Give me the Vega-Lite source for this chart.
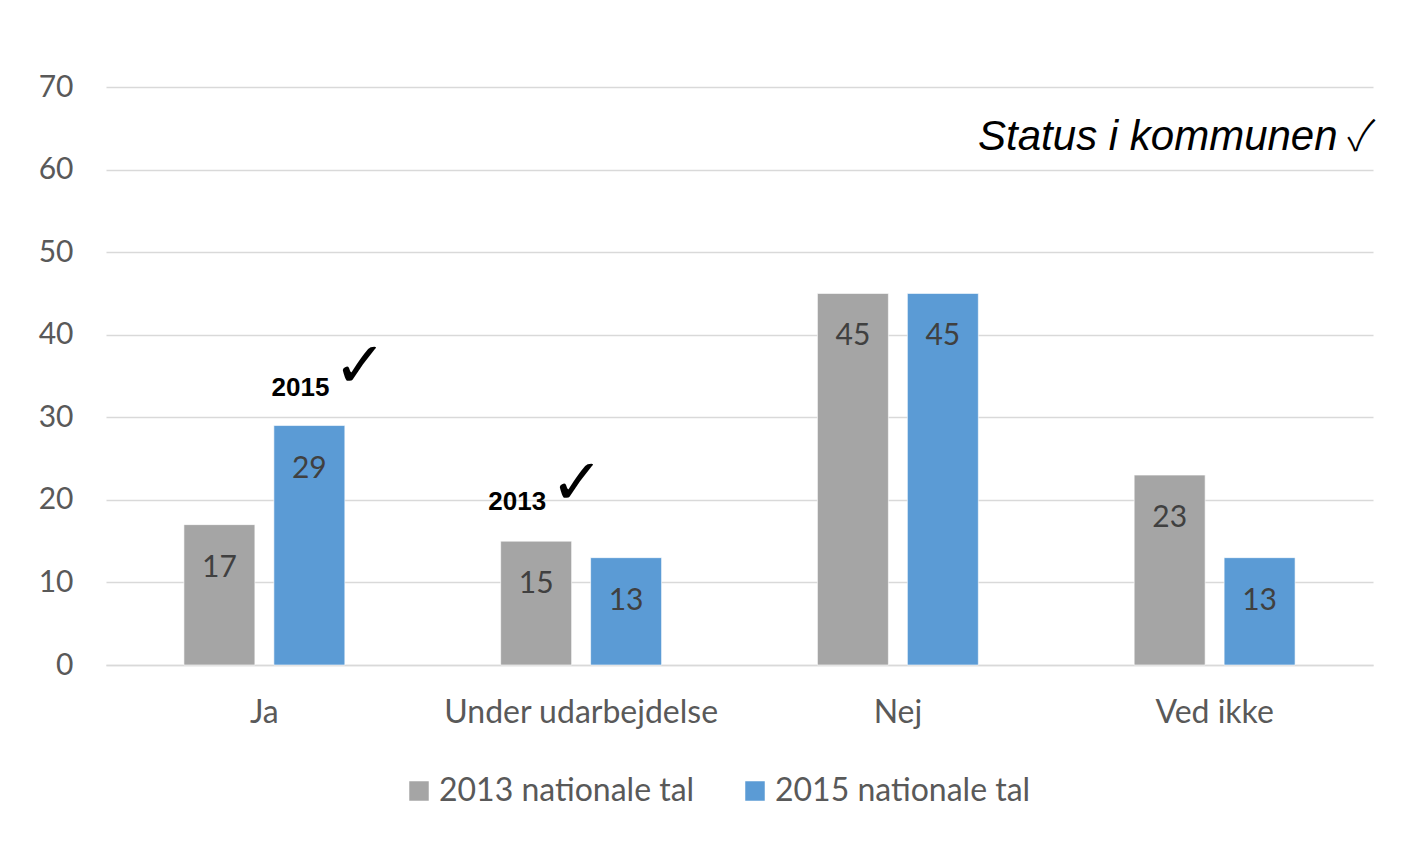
{
  "$schema": "https://vega.github.io/schema/vega-lite/v6.json",
  "autosize": {"type": "none"},
  "width": 1267,
  "height": 578,
  "padding": {"left": 106, "top": 87, "right": 34, "bottom": 177},
  "background": "white",
  "config": {"view": {"stroke": null}, "font": "Lato"},
  "datasets": {
    "main": [
      {"kategori": "Ja", "serie": "2013 nationale tal", "vaerdi": 17},
      {"kategori": "Ja", "serie": "2015 nationale tal", "vaerdi": 29},
      {"kategori": "Under udarbejdelse", "serie": "2013 nationale tal", "vaerdi": 15},
      {"kategori": "Under udarbejdelse", "serie": "2015 nationale tal", "vaerdi": 13},
      {"kategori": "Nej", "serie": "2013 nationale tal", "vaerdi": 45},
      {"kategori": "Nej", "serie": "2015 nationale tal", "vaerdi": 45},
      {"kategori": "Ved ikke", "serie": "2013 nationale tal", "vaerdi": 23},
      {"kategori": "Ved ikke", "serie": "2015 nationale tal", "vaerdi": 13}
    ]
  },
  "encoding": {
    "x": {
      "field": "kategori",
      "type": "nominal",
      "sort": ["Ja", "Under udarbejdelse", "Nej", "Ved ikke"],
      "scale": {"paddingInner": 0.492, "paddingOuter": 0.246},
      "axis": {
        "title": null,
        "labelAngle": 0,
        "labelFontSize": 32,
        "labelColor": "#595959",
        "labelPadding": 32,
        "labelLimit": 0,
        "ticks": false,
        "grid": false,
        "domainColor": "#D9D9D9",
        "domainWidth": 1.5
      }
    },
    "xOffset": {
      "field": "serie",
      "type": "nominal",
      "sort": ["2013 nationale tal", "2015 nationale tal"],
      "scale": {"paddingInner": 0.211, "paddingOuter": 0}
    },
    "y": {
      "field": "vaerdi",
      "type": "quantitative",
      "scale": {"domain": [0, 70], "nice": false},
      "axis": {
        "title": null,
        "values": [0, 10, 20, 30, 40, 50, 60, 70],
        "labelFontSize": 30,
        "labelColor": "#595959",
        "labelPadding": 33,
        "ticks": false,
        "domain": false,
        "gridColor": "#D9D9D9",
        "gridWidth": 1.5
      }
    }
  },
  "layer": [
    {
      "data": {"name": "main"},
      "mark": {"type": "bar", "stroke": "#ffffff", "strokeWidth": 1, "strokeOpacity": 0.6},
      "encoding": {
        "color": {
          "field": "serie",
          "type": "nominal",
          "scale": {"domain": ["2013 nationale tal", "2015 nationale tal"], "range": ["#A5A5A5", "#5B9BD5"]},
          "legend": {
            "title": null,
            "orient": "none",
            "legendX": 297,
            "legendY": 688,
            "direction": "horizontal",
            "padding": 0,
            "symbolType": "square",
            "symbolSize": 380,
            "symbolStrokeWidth": 0,
            "labelFontSize": 32,
            "labelColor": "#595959",
            "labelOffset": 4,
            "labelLimit": 400,
            "columnPadding": 44
          }
        }
      }
    },
    {
      "data": {"name": "main"},
      "mark": {"type": "text", "baseline": "middle", "dy": 43, "fontSize": 30, "color": "#404040"},
      "encoding": {"text": {"field": "vaerdi", "type": "quantitative"}}
    },
    {
      "data": {"values": [{"kategori": "Ja", "serie": "2015 nationale tal", "vaerdi": 33.5, "t": "2015"}]},
      "mark": {"type": "text", "align": "right", "baseline": "middle", "dx": 20, "font": "Liberation Sans", "fontWeight": "bold", "fontSize": 26, "color": "#000000"},
      "encoding": {"text": {"field": "t"}}
    },
    {
      "data": {"values": [{"kategori": "Ja", "serie": "2015 nationale tal", "vaerdi": 36.0, "t": "✓"}]},
      "mark": {"type": "text", "align": "left", "baseline": "middle", "dx": 24, "font": "DejaVu Sans", "fontSize": 64, "color": "#000000"},
      "encoding": {"text": {"field": "t"}}
    },
    {
      "data": {"values": [{"kategori": "Under udarbejdelse", "serie": "2013 nationale tal", "vaerdi": 19.7, "t": "2013"}]},
      "mark": {"type": "text", "align": "right", "baseline": "middle", "dx": 10, "font": "Liberation Sans", "fontWeight": "bold", "fontSize": 26, "color": "#000000"},
      "encoding": {"text": {"field": "t"}}
    },
    {
      "data": {"values": [{"kategori": "Under udarbejdelse", "serie": "2013 nationale tal", "vaerdi": 21.8, "t": "✓"}]},
      "mark": {"type": "text", "align": "left", "baseline": "middle", "dx": 14, "font": "DejaVu Sans", "fontSize": 64, "color": "#000000"},
      "encoding": {"text": {"field": "t"}}
    },
    {
      "data": {"values": [{"kategori": "Ved ikke", "serie": "2015 nationale tal", "vaerdi": 63.9, "t": "Status i kommunen"}]},
      "mark": {"type": "text", "align": "right", "baseline": "middle", "dx": 78, "font": "Liberation Sans", "fontStyle": "italic", "fontSize": 42, "color": "#000000"},
      "encoding": {"text": {"field": "t"}}
    },
    {
      "data": {"values": [{"kategori": "Ved ikke", "serie": "2015 nationale tal", "vaerdi": 64.0, "t": "✓"}]},
      "mark": {"type": "text", "align": "left", "baseline": "middle", "dx": 88, "font": "Noto Sans CJK JP", "fontWeight": 300, "fontSize": 42, "color": "#000000"},
      "encoding": {"text": {"field": "t"}}
    }
  ]
}
